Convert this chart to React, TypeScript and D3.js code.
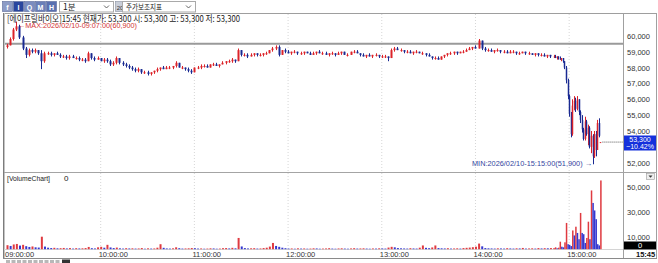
import React from "react";
import * as d3 from "d3";

// ---- bar slots (minute index from 09:00; 2-minute bars until 14:48, 1-minute bars after, 380 = 15:30 auction)
const slots = [...d3.range(0, 350, 2), ...d3.range(350, 381)];

// prices in units of 100 KRW
const opens = [
  593,594,598,604,606,599,592,588,591,590, 591,589,584,589,589,588,589,588,587,587,
  586,587,586,586,585,585,584,589,586,585, 586,584,585,584,582,583,586,583,582,581,
  580,579,578,579,577,577,576,577,578,579, 580,579,580,580,581,583,580,580,579,578,
  577,580,580,581,581,580,582,582,581,582, 583,584,584,585,584,591,588,588,587,588,
  589,588,588,589,589,591,592,593,588,591, 590,589,590,590,589,589,590,589,588,589,
  590,589,589,588,589,589,588,589,590,588, 588,590,590,589,588,587,588,587,588,588,
  587,587,587,586,591,592,591,591,590,590, 589,590,590,589,589,588,587,586,586,585,
  587,588,589,589,590,589,590,590,591,592, 593,592,597,592,591,591,590,591,591,590,
  590,589,590,590,589,589,590,589,589,588, 589,588,588,587,588,
  587,587,586,587,586,585,586,584,580,572, 562,551,538,556,559,554,560,552,547,541,
  535,546,538,542,530,537,524,538,528,545, 533,
];
const highs = [
  595,599,605,609,607,600,593,592,592,592, 591,591,590,590,590,589,590,589,588,588,
  588,588,587,587,586,586,590,589,587,587, 586,586,586,585,584,587,586,584,583,582,
  581,580,580,579,578,578,577,578,580,580, 581,581,581,581,584,583,581,580,580,579,
  580,581,582,582,582,582,583,583,582,584, 584,585,586,585,592,591,589,589,589,589,
  589,589,589,590,591,593,594,594,591,592, 591,590,591,590,590,590,590,590,590,590,
  591,590,590,589,590,589,590,590,590,589, 590,591,591,589,589,588,589,588,589,588,
  588,588,587,592,593,593,592,591,591,591, 590,591,590,590,589,589,587,587,587,587,
  588,589,590,590,590,590,591,592,593,593, 594,598,597,593,592,592,591,592,591,591,
  591,591,591,590,590,590,590,590,589,589, 589,589,589,588,588,
  588,588,587,587,587,586,586,584,581,573, 563,552,560,562,561,562,560,553,550,542,
  549,547,544,543,540,538,540,540,547,548, 533,
];
const lows = [
  592,594,597,603,598,591,586,587,589,589, 588,579,583,588,587,587,588,586,586,585,
  585,586,585,584,584,583,584,585,584,585, 584,583,583,581,581,582,582,581,580,579,
  578,577,577,576,576,575,575,576,577,578, 579,579,579,579,580,580,579,578,577,576,
  577,579,579,580,580,580,581,581,580,582, 582,583,583,583,584,587,587,586,587,587,
  587,587,587,588,589,590,591,587,588,589, 589,588,589,588,588,588,589,588,588,588,
  589,588,588,587,588,587,588,588,588,587, 588,589,589,587,587,586,587,586,587,586,
  586,586,584,586,590,591,590,589,589,589, 588,589,589,588,587,587,585,585,585,585,
  586,587,588,588,588,589,589,590,591,591, 592,592,591,590,590,590,589,590,589,589,
  589,589,589,588,588,589,588,588,588,587, 587,587,587,586,586,
  586,586,585,585,585,584,583,579,570,560, 549,536,537,553,552,553,550,545,539,534,
  534,537,531,529,526,519,523,524,528,536, 533,
];
const closes = [
  594,598,604,606,599,592,588,591,590,591, 589,584,589,589,588,589,588,587,587,586,
  587,586,586,585,585,584,589,586,585,586, 584,585,584,582,583,586,583,582,581,580,
  579,578,579,577,577,576,577,578,579,580, 579,580,580,581,583,580,580,579,578,577,
  580,580,581,581,580,582,582,581,582,583, 584,584,585,584,591,588,588,587,588,589,
  588,588,589,589,591,592,593,588,591,590, 589,590,590,589,589,590,589,588,589,590,
  589,589,588,589,589,588,589,590,588,588, 590,590,589,588,587,588,587,588,588,587,
  587,587,586,591,592,591,591,590,590,589, 590,590,589,589,588,587,586,586,585,587,
  588,589,589,590,589,590,590,591,592,593, 592,597,592,591,591,590,591,591,590,590,
  589,590,590,589,589,590,589,589,588,589, 588,588,587,588,587,
  587,586,587,586,585,586,584,580,572,562, 551,538,556,559,554,560,552,547,541,535,
  546,538,542,530,537,524,538,528,545,537, 533,
];
const volumes = [
  3200,2600,3800,4200,2900,3500,2400,1800,2200,1500, 1300,10000,2100,1200,900,1100,700,800,1000,600,
  900,500,800,600,700,900,1800,800,600,1500, 1900,1200,3500,1400,900,1300,700,500,800,600,
  700,500,600,900,400,700,500,600,1200,4000, 1100,600,500,700,1500,800,500,600,700,900,
  800,500,600,400,500,700,600,400,500,800, 900,600,1100,700,9000,2200,900,600,700,800,
  500,600,900,1200,2100,5000,2600,1900,1200,800, 500,600,400,700,500,600,400,500,700,600,
  400,500,600,800,500,400,600,700,500,400, 600,800,500,600,700,500,400,600,500,700,
  600,500,1300,1900,1500,900,700,600,500,800, 600,500,1200,3000,1100,800,1400,3000,900,700,
  600,800,500,600,700,500,900,1100,1300,1600, 2000,4500,2300,900,700,600,500,700,600,500,
  800,600,500,700,600,1000,500,600,700,500, 900,600,800,700,900,
  900,1500,700,1200,6000,2000,1500,5500,21000,4000, 3500,2500,15000,11000,18000,13000,8000,29000,13000,12000,
  5000,9000,22000,8000,47000,37000,31000,24000,4000,3000, 55000,
];

const hourSlots = [0, 60, 120, 180, 240, 300, 360];
const hourLabels = ["09:00:00", "10:00:00", "11:00:00", "12:00:00", "13:00:00", "14:00:00", "15:00:00"];
const priceTicks = [520, 540, 550, 560, 570, 580, 590, 600];
const volumeTicks = [10000, 30000, 50000];
const prevClose = 595;
const lastPrice = 533;
const minSlot = 375;

const title = "[에이프릴바이오]15:45 현재가: 53,300 시: 53,300 고: 53,300 저: 53,300";
const maxLabel = "←MAX:2026/02/10-09:07:00(60,900)";
const minLabel = "MIN:2026/02/10-15:15:00(51,900) →";

const RED = "#dc2329";
const BLUE = "#1a2a92";
const VRED = "#df3a40";
const VBLUE = "#3538cf";
const FONT = "'Noto Sans CJK KR', 'Liberation Sans', sans-serif";
const AX = "'Liberation Sans', Arial, sans-serif";

export default function App() {
  const x = d3.scaleLinear().domain([0, 380]).range([7, 600.4]);
  const yP = d3.scaleLinear().domain([520, 590]).range([162.7, 51.7]);
  const yV = d3.scaleLinear().domain([0, 50000]).range([249.2, 186.7]);
  const fmt = d3.format(",");

  const icons = [
    { x: 2, fill: "#8d9cc6" },
    { x: 13, fill: "#2a469e" },
    { x: 24, fill: "#7a8cc0" },
    { x: 35, fill: "#6a7fb8" },
    { x: 46, fill: "#5a70b0" },
  ];

  return (
    <svg width={658} height={263} style={{ position: "fixed", left: 0, top: 0, background: "#fff" }}>
      <rect x={0} y={0} width={658} height={263} fill="#fff" />
      {/* toolbar */}
      {icons.map((ic, i) => (
        <g key={i}>
          <rect x={ic.x + 0.5} y={1.5} width={10} height={10} fill={ic.fill} stroke="#5a6a9a" strokeWidth={0.6} />
          <text x={ic.x + 5.5} y={9.5} fontSize={7} fill="#fff" textAnchor="middle" fontFamily={AX} fontWeight="bold">
            {["f", "I", "Q", "M", "H"][i]}
          </text>
        </g>
      ))}
      <rect x={59.5} y={1.5} width={54} height={10.5} fill="#fff" stroke="#a9a9a9" />
      <text x={63} y={10} fontSize={8.5} fill="#222" fontFamily={FONT}>1분</text>
      <path d="M104,5.5 L106.5,8 L109,5.5" fill="none" stroke="#555" strokeWidth={0.9} />
      <rect x={115.5} y={1.5} width={9} height={10} fill="#c9ced8" stroke="#8890a0" strokeWidth={0.6} />
      <text x={120} y={9.5} fontSize={6} fill="#333" textAnchor="middle" fontFamily={AX}>20</text>
      <rect x={122.5} y={1.5} width={73} height={10.5} fill="#fff" stroke="#a9a9a9" />
      <text x={126} y={10} fontSize={8.5} fill="#222" fontFamily={FONT} textLength={36} lengthAdjust="spacingAndGlyphs">주가보조지표</text>
      <path d="M186,5.5 L188.5,8 L191,5.5" fill="none" stroke="#555" strokeWidth={0.9} />

      {/* frame */}
      <line x1={3} x2={657} y1={13.5} y2={13.5} stroke="#9e9e9e" />
      <line x1={3.5} x2={3.5} y1={13} y2={259} stroke="#7c7c7c" />
      <line x1={4.5} x2={4.5} y1={13} y2={259} stroke="#c4c4c4" />
      <line x1={623.5} x2={623.5} y1={13} y2={259} stroke="#a0a0a0" />
      <line x1={656.5} x2={656.5} y1={13} y2={259} stroke="#a0a0a0" />
      <line x1={4} x2={657} y1={172.5} y2={172.5} stroke="#a4a4a4" />
      <line x1={4} x2={623} y1={249.5} y2={249.5} stroke="#d4d4d4" />
      <line x1={3} x2={657} y1={258.5} y2={258.5} stroke="#8a8a8a" />
      <rect x={646.5} y={173.5} width={8} height={6} fill="#eee" stroke="#999" strokeWidth={0.6} />
      <path d="M648.5,175.5 L650.5,177.8 L652.5,175.5 Z" fill="#333" />

      {/* grid */}
      {hourSlots.slice(1).map((s) => (
        <line key={s} x1={x(s)} x2={x(s)} y1={14} y2={249} stroke="#d6d6d6" strokeDasharray="1,2" />
      ))}
      <line x1={5} x2={623} y1={yP(prevClose)} y2={yP(prevClose)} stroke="#9a9a9a" strokeWidth={2} />

      {/* candles */}
      {slots.map((s, i) => {
        const up = closes[i] >= opens[i];
        const col = up ? RED : BLUE;
        const cx = Math.round(x(s)) + 0.5;
        const w = s < 350 ? 2 : 1.5;
        const yT = yP(Math.max(opens[i], closes[i]));
        const yB = yP(Math.min(opens[i], closes[i]));
        return (
          <g key={i}>
            <line x1={cx} x2={cx} y1={yP(highs[i])} y2={yP(lows[i])} stroke={col} strokeWidth={1} />
            <rect x={cx - w / 2} y={yT} width={w} height={Math.max(1, yB - yT)} fill={col} />
          </g>
        );
      })}

      {/* volume */}
      {slots.map((s, i) => {
        const up = i === 0 || volumes[i] >= volumes[i - 1];
        const w = s < 350 ? 2 : 1.5;
        const y0 = yV(volumes[i]);
        return <rect key={i} x={x(s) - w / 2 + 0.5} y={y0} width={w} height={yV(0) - y0} fill={up ? VRED : VBLUE} />;
      })}

      {/* texts on price panel */}
      <text x={7} y={22} fontSize={9} fill="#222" fontFamily={FONT} textLength={233} lengthAdjust="spacingAndGlyphs">{title}</text>
      <text x={18} y={27.5} fontSize={8} fill="#d23535" fontFamily={AX} textLength={119} lengthAdjust="spacingAndGlyphs">{maxLabel}</text>
      <text x={472} y={166} fontSize={8} fill="#34449e" fontFamily={AX} textLength={120} lengthAdjust="spacingAndGlyphs">{minLabel}</text>
      <line x1={x(380) + 2} x2={623} y1={yP(lastPrice)} y2={yP(lastPrice)} stroke="#555" strokeDasharray="1,1" />
      <text x={7} y={181} fontSize={8} fill="#222" fontFamily={AX} textLength={43} lengthAdjust="spacingAndGlyphs">[VolumeChart]</text>
      <text x={64} y={181} fontSize={8} fill="#222" fontFamily={AX}>0</text>

      {/* price axis */}
      {priceTicks.map((p) => (
        <text key={p} x={627} y={yP(p) + 3} fontSize={7.5} fill="#333" fontFamily={AX}>{fmt(p * 100)}</text>
      ))}
      <rect x={624} y={135.5} width={32} height={15} fill="#1430dc" />
      <text x={640} y={142} fontSize={7} fill="#fff" textAnchor="middle" fontFamily={AX}>{fmt(lastPrice * 100)}</text>
      <text x={640} y={148.8} fontSize={7} fill="#fff" textAnchor="middle" fontFamily={AX}>
        {d3.format(".2f")(((lastPrice - prevClose) / prevClose) * 100)}%
      </text>

      {/* volume axis */}
      {volumeTicks.map((v) => (
        <text key={v} x={627} y={yV(v) + 3} fontSize={7.5} fill="#333" fontFamily={AX}>{fmt(v)}</text>
      ))}
      <rect x={624} y={241.5} width={32} height={8} fill="#000" />
      <text x={640} y={248.3} fontSize={7.5} fill="#fff" textAnchor="middle" fontFamily={AX}>0</text>

      {/* time axis */}
      {hourSlots.map((s, i) => (
        <text key={s} x={x(s) - 2} y={256.5} fontSize={7.5} fill="#333" fontFamily={AX}>{hourLabels[i]}</text>
      ))}
      <text x={636} y={256.5} fontSize={7.5} fill="#111" fontWeight="bold" fontFamily={AX}>15:45</text>

      {/* scrollbar strip */}
      {d3.range(0, 10).map((i) => (
        <rect key={i} x={6 + i * 5.5} y={260} width={4} height={3} fill="#b8b8b8" />
      ))}
      <rect x={62} y={259.5} width={8} height={3.5} fill="#333" />
    </svg>
  );
}
